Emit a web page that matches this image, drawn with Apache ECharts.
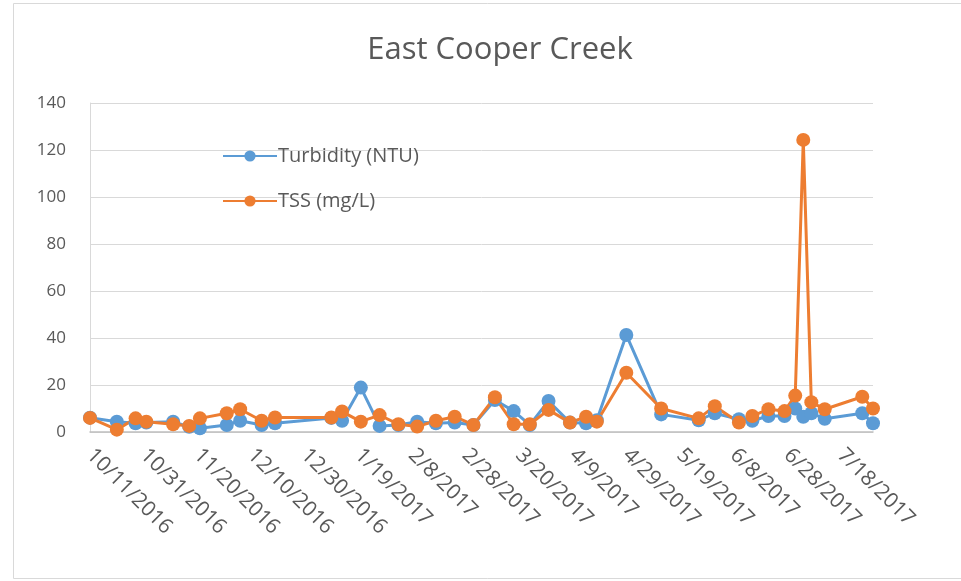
<!DOCTYPE html>
<html>
<head>
<meta charset="utf-8">
<title>East Cooper Creek</title>
<script src="https://cdn.jsdelivr.net/npm/echarts@6/dist/echarts.min.js"></script>
<style>
  html, body { margin: 0; padding: 0; background: #fff; }
  #chart { width: 961px; height: 581px; }
</style>
</head>
<body>
<div id="chart"></div>
<script>
// sample dates (M/D/YYYY)
var dates = [
  '10/11/2016', '10/21/2016', '10/28/2016', '11/1/2016', '11/11/2016', '11/17/2016',
  '11/21/2016', '12/1/2016', '12/6/2016', '12/14/2016', '12/19/2016', '1/9/2017',
  '1/13/2017', '1/20/2017', '1/27/2017', '2/3/2017', '2/10/2017', '2/17/2017',
  '2/24/2017', '3/3/2017', '3/11/2017', '3/18/2017', '3/24/2017', '3/31/2017',
  '4/8/2017', '4/14/2017', '4/18/2017', '4/29/2017', '5/12/2017', '5/26/2017',
  '6/1/2017', '6/10/2017', '6/15/2017', '6/21/2017', '6/27/2017', '7/1/2017',
  '7/4/2017', '7/7/2017', '7/12/2017', '7/26/2017', '7/30/2017'
];
var turbidity = [
  6.1, 4.4, 3.7, 4.0, 4.4, 2.2,
  1.6, 3.0, 4.8, 3.0, 3.7, 6.0,
  4.8, 18.9, 2.6, 3.0, 4.4, 3.7,
  4.0, 3.0, 13.6, 8.9, 3.0, 13.2,
  4.0, 3.7, 5.0, 41.3, 7.5, 5.0,
  8.0, 5.4, 4.8, 6.8, 6.8, 10.0,
  6.5, 8.0, 5.6, 8.0, 3.7
];
var tss = [
  6.0, 1.0, 5.8, 4.4, 3.3, 2.6,
  5.8, 8.0, 9.7, 4.8, 6.2, 6.2,
  8.7, 4.4, 7.2, 3.3, 2.3, 4.8,
  6.5, 3.0, 14.8, 3.3, 3.3, 9.4,
  4.0, 6.5, 4.4, 25.2, 10.0, 5.8,
  11.0, 4.0, 6.8, 9.7, 8.9, 15.5,
  124.3, 12.7, 9.7, 15.0, 10.0
];
var seriesNames = ['Turbidity (NTU)', 'TSS (mg/L)'];
var axisStart = '10/11/2016';
var axisEnd = '7/30/2017';
var tickDays = 20;

var DAY = 86400000;
function toUTC(s) {
  var p = s.split('/');
  return Date.UTC(+p[2], +p[0] - 1, +p[1]);
}
var t0 = toUTC(axisStart);
function dayOf(s) { return Math.round((toUTC(s) - t0) / DAY); }
function labelOf(d) {
  var dt = new Date(t0 + d * DAY);
  return (dt.getUTCMonth() + 1) + '/' + dt.getUTCDate() + '/' + dt.getUTCFullYear();
}

var grey = '#595959';
var fontFam = '"Open Sans", "Liberation Sans", sans-serif';

var myChart = echarts.init(document.getElementById('chart'));
var option = {
  animation: false,
  color: ['#5B9BD5', '#ED7D31'],
  graphic: [{
    type: 'rect',
    shape: { x: 13.5, y: 3.5, width: 960, height: 575 },
    style: { fill: 'none', stroke: '#d9d9d9', lineWidth: 1 },
    silent: true
  }],
  title: {
    text: 'East Cooper Creek',
    left: 495,
    textAlign: 'center',
    top: 30,
    textStyle: { fontFamily: fontFam, fontSize: 31, fontWeight: 'normal', color: grey }
  },
  legend: {
    orient: 'vertical',
    left: 217,
    top: 141,
    itemWidth: 54,
    itemHeight: 14,
    itemGap: 25,
    data: seriesNames,
    textStyle: { fontFamily: fontFam, fontSize: 20, color: grey, padding: [0, 0, 0, -4] }
  },
  grid: { left: 90, right: 88, top: 103, bottom: 149, containLabel: false },
  xAxis: {
    type: 'value',
    min: 0,
    max: dayOf(axisEnd),
    interval: tickDays,
    axisLine: { show: true, lineStyle: { color: '#bfbfbf', width: 1.5 } },
    axisTick: { show: false },
    splitLine: { show: false },
    axisLabel: {
      rotate: -45,
      margin: 20,
      showMaxLabel: false,
      fontFamily: fontFam,
      fontSize: 21,
      color: grey,
      formatter: function (v) { return labelOf(v); }
    }
  },
  yAxis: {
    type: 'value',
    min: 0,
    max: 140,
    interval: 20,
    axisLine: { show: true, lineStyle: { color: '#d9d9d9' } },
    axisTick: { show: false },
    splitLine: { lineStyle: { color: '#d9d9d9', width: 1 } },
    axisLabel: { margin: 24, fontFamily: fontFam, fontSize: 17, color: grey }
  },
  series: [
    {
      name: seriesNames[0],
      type: 'line',
      symbol: 'circle',
      symbolSize: 14,
      lineStyle: { width: 3 },
      data: dates.map(function (d, i) { return [dayOf(d), turbidity[i]]; })
    },
    {
      name: seriesNames[1],
      type: 'line',
      symbol: 'circle',
      symbolSize: 14,
      lineStyle: { width: 3 },
      data: dates.map(function (d, i) { return [dayOf(d), tss[i]]; })
    }
  ]
};
myChart.setOption(option);
window.addEventListener('resize', function () {
  myChart.resize();
});
</script>
</body>
</html>
